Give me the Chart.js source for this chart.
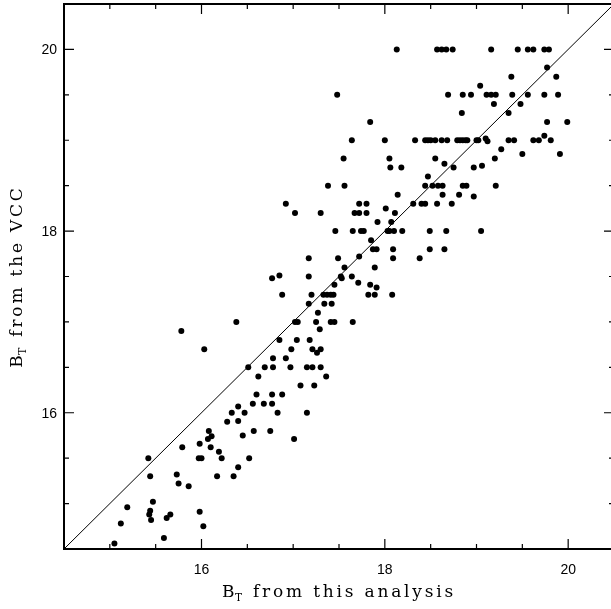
<!DOCTYPE html>
<html>
<head>
<meta charset="utf-8">
<script src="https://cdn.jsdelivr.net/npm/chart.js@4.4.1/dist/chart.umd.min.js"></script>
<style>
  html, body { margin: 0; padding: 0; overflow: hidden; background: #fff; }
  canvas { display: block; }
</style>
</head>
<body>
<canvas id="magChart" width="620" height="609"></canvas>
<script>
// total B magnitudes: this analysis (x) against the VCC catalogue (y)
var btThis = [
  18.13, 18.57, 18.62, 18.67, 18.74, 19.16, 19.45, 19.56, 19.62, 19.74, 19.79,
  19.77, 19.38, 19.87, 19.04,
  17.48, 18.69, 18.85, 18.94, 19.11, 19.16, 19.21, 19.39, 19.56, 19.74, 19.89,
  19.19, 19.48, 18.84, 19.35, 17.84, 19.77, 19.99, 19.74,
  17.64, 18.00, 18.33, 18.44, 18.47, 18.50, 18.55, 18.62, 18.68, 18.79, 18.82, 18.85,
  18.88, 18.90, 19.00, 19.02, 19.10, 19.12, 19.35, 19.41, 19.62, 19.68, 19.81,
  19.27, 19.50, 19.91,
  17.55, 18.05, 18.55, 19.20,
  18.06, 18.18, 18.65, 18.75, 18.97, 19.06, 18.47,
  17.38, 17.56, 18.44, 18.52, 18.58, 18.63, 18.85, 18.89, 19.21,
  18.14, 18.63, 18.81, 18.97,
  16.92, 17.72, 17.80, 18.31, 18.40, 18.44, 18.57, 18.73,
  17.02, 17.30, 17.67, 17.72, 17.80, 18.11, 18.01,
  17.92, 18.07,
  17.46, 17.65, 17.74, 17.77, 18.03, 18.05, 18.10, 18.19, 18.49, 18.67, 19.05,
  17.85, 17.87, 17.91, 18.09, 18.49, 18.65,
  17.17, 17.49, 17.72, 18.09, 18.38, 17.56, 17.89,
  16.77, 16.85, 17.17, 17.52, 17.53, 17.64,
  17.45, 17.71, 17.84, 17.91,
  16.88, 17.20, 17.33, 17.37, 17.41, 17.44, 17.82, 17.89, 18.08,
  17.17, 17.34, 17.42, 17.27,
  16.38, 17.02, 17.05, 17.25, 17.41, 17.45, 17.65,
  15.78, 17.29, 16.85, 17.04, 17.18,
  16.03, 16.98, 17.21, 17.30, 17.26, 16.78, 16.92,
  16.51, 16.69, 16.78, 16.97, 17.15, 17.21, 17.30,
  16.62, 17.36, 17.08, 17.23,
  16.60, 16.77, 16.88, 16.56, 16.68, 16.77, 16.40,
  16.33, 16.47, 16.83, 17.15, 16.28, 16.40,
  16.08, 16.57, 16.75, 16.45, 16.11, 16.07, 17.01,
  15.79, 16.10, 16.19, 15.98,
  15.42, 15.97, 16.00, 16.22, 16.52, 16.40,
  15.44, 15.73, 16.17, 16.35, 15.75, 15.86,
  15.47, 15.19, 15.44, 15.43, 15.45, 15.62, 15.66, 15.98,
  15.12, 16.02, 15.59, 15.05
];
var btVcc = [
  20.0, 20.0, 20.0, 20.0, 20.0, 20.0, 20.0, 20.0, 20.0, 20.0, 20.0,
  19.8, 19.7, 19.7, 19.6,
  19.5, 19.5, 19.5, 19.5, 19.5, 19.5, 19.5, 19.5, 19.5, 19.5, 19.5,
  19.4, 19.4, 19.3, 19.3, 19.2, 19.2, 19.2, 19.05,
  19.0, 19.0, 19.0, 19.0, 19.0, 19.0, 19.0, 19.0, 19.0, 19.0, 19.0, 19.0,
  19.0, 19.0, 19.0, 19.0, 19.02, 18.99, 19.0, 19.0, 19.0, 19.0, 19.0,
  18.9, 18.85, 18.85,
  18.8, 18.8, 18.8, 18.8,
  18.7, 18.7, 18.74, 18.7, 18.7, 18.72, 18.6,
  18.5, 18.5, 18.5, 18.5, 18.5, 18.5, 18.5, 18.5, 18.5,
  18.4, 18.4, 18.4, 18.38,
  18.3, 18.3, 18.3, 18.3, 18.3, 18.3, 18.3, 18.3,
  18.2, 18.2, 18.2, 18.2, 18.2, 18.2, 18.25,
  18.1, 18.1,
  18.0, 18.0, 18.0, 18.0, 18.0, 18.0, 18.0, 18.0, 18.0, 18.0, 18.0,
  17.9, 17.8, 17.8, 17.8, 17.8, 17.8,
  17.7, 17.7, 17.72, 17.7, 17.7, 17.6, 17.6,
  17.48, 17.51, 17.5, 17.5, 17.48, 17.5,
  17.41, 17.43, 17.41, 17.38,
  17.3, 17.3, 17.3, 17.3, 17.3, 17.3, 17.3, 17.3, 17.3,
  17.2, 17.2, 17.2, 17.1,
  17.0, 17.0, 17.0, 17.0, 17.0, 17.0, 17.0,
  16.9, 16.92, 16.8, 16.8, 16.8,
  16.7, 16.7, 16.7, 16.7, 16.66, 16.6, 16.6,
  16.5, 16.5, 16.5, 16.5, 16.5, 16.5, 16.5,
  16.4, 16.4, 16.3, 16.3,
  16.2, 16.2, 16.2, 16.1, 16.1, 16.1, 16.07,
  16.0, 16.0, 16.0, 16.0, 15.9, 15.91,
  15.8, 15.8, 15.8, 15.75, 15.74, 15.71, 15.71,
  15.62, 15.62, 15.57, 15.66,
  15.5, 15.5, 15.5, 15.5, 15.5, 15.4,
  15.3, 15.32, 15.3, 15.3, 15.22, 15.19,
  15.02, 14.96, 14.92, 14.88, 14.82, 14.84, 14.88, 14.91,
  14.78, 14.75, 14.62, 14.56
];

var magRange = [14.5, 20.5];     // both axes
var labelTicks = [16, 18, 20];   // long, labelled ticks
var minorStep = 0.5;

var points = btThis.map(function (v, i) {
  return { x: v, y: btVcc[i] };
});
var diagonal = magRange.map(function (v) {
  return { x: v, y: v };
});

// draw text one glyph at a time so the letters can be spread out
function spacedWidth(ctx, text, gap) {
  var w = 0;
  for (var i = 0; i < text.length; i++) w += ctx.measureText(text[i]).width + gap;
  return w;
}
function drawSpaced(ctx, text, x, y, gap) {
  for (var i = 0; i < text.length; i++) {
    ctx.fillText(text[i], x, y);
    x += ctx.measureText(text[i]).width + gap;
  }
  return x;
}

// axis title "B<sub>T</sub> ..." centred on 0,0 in the current transform
function drawTitle(ctx, rest) {
  var big = "17px 'DejaVu Serif'", small = "10.5px 'DejaVu Serif'", gap = 2.8;
  ctx.font = big;
  var w = spacedWidth(ctx, 'B', 0.5) + spacedWidth(ctx, rest, gap);
  ctx.font = small;
  w += spacedWidth(ctx, 'T', gap);
  var x = -w / 2;
  ctx.font = big;
  x = drawSpaced(ctx, 'B', x, 0, 0.5);
  ctx.font = small;
  x = drawSpaced(ctx, 'T', x, 4, gap);
  ctx.font = big;
  drawSpaced(ctx, rest, x, 0, gap);
}

var framePlugin = {
  id: 'frame',
  afterDraw: function (chart) {
    var ctx = chart.ctx;
    var a = chart.chartArea;
    var xs = chart.scales.x, ys = chart.scales.y;
    ctx.save();
    ctx.strokeStyle = '#000';
    ctx.fillStyle = '#000';

    ctx.lineWidth = 2;
    ctx.strokeRect(a.left, a.top, a.right - a.left, a.bottom - a.top);

    // inward ticks on all four sides
    ctx.lineWidth = 1.2;
    ctx.beginPath();
    for (var v = magRange[0]; v <= magRange[1] + 1e-9; v += minorStep) {
      var len = labelTicks.indexOf(v) >= 0 ? 10 : 5;
      var px = xs.getPixelForValue(v);
      var py = ys.getPixelForValue(v);
      ctx.moveTo(px, a.bottom); ctx.lineTo(px, a.bottom - len);
      ctx.moveTo(px, a.top); ctx.lineTo(px, a.top + len);
      ctx.moveTo(a.left, py); ctx.lineTo(a.left + len, py);
      ctx.moveTo(a.right, py); ctx.lineTo(a.right - len, py);
    }
    ctx.stroke();

    // tick labels
    ctx.font = "14px 'Liberation Sans', Arial, sans-serif";
    ctx.fillStyle = '#000';
    ctx.textBaseline = 'middle';
    labelTicks.forEach(function (t) {
      ctx.textAlign = 'center';
      ctx.fillText(String(t), xs.getPixelForValue(t), a.bottom + 21);
      ctx.textAlign = 'right';
      ctx.fillText(String(t), a.left - 7, ys.getPixelForValue(t) + 1);
    });

    // axis titles
    ctx.textAlign = 'left';
    ctx.textBaseline = 'alphabetic';
    ctx.save();
    ctx.translate((a.left + a.right) / 2, 597);
    drawTitle(ctx, ' from this analysis');
    ctx.restore();
    ctx.save();
    ctx.translate(22, (a.top + a.bottom) / 2);
    ctx.rotate(-Math.PI / 2);
    drawTitle(ctx, ' from the VCC');
    ctx.restore();

    ctx.restore();
  }
};

new Chart(document.getElementById('magChart'), {
  type: 'scatter',
  data: {
    datasets: [{
      type: 'line',
      data: diagonal,
      borderColor: '#000',
      borderWidth: 1,
      pointRadius: 0,
      fill: false
    }, {
      data: points,
      backgroundColor: '#000',
      borderWidth: 0,
      pointRadius: 3
    }]
  },
  options: {
    responsive: false,
    animation: false,
    layout: { padding: { left: 64, right: 6, top: 1, bottom: 60 } },
    plugins: { legend: { display: false }, tooltip: { enabled: false } },
    scales: {
      x: { type: 'linear', min: magRange[0], max: magRange[1], display: false },
      y: { type: 'linear', min: magRange[0], max: magRange[1], display: false }
    }
  },
  plugins: [framePlugin]
});
</script>
</body>
</html>
